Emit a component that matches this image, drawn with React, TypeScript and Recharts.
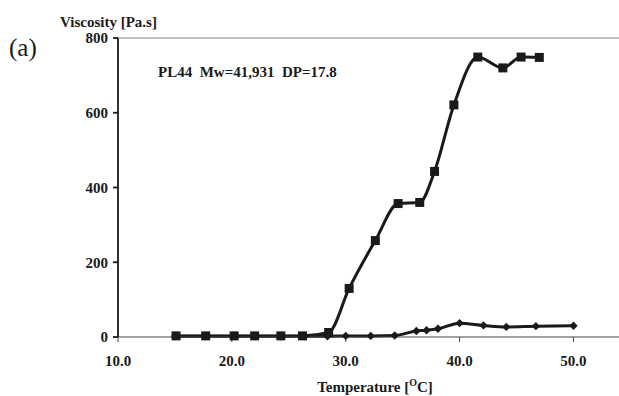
import React from 'react'
import { LineChart, Line, XAxis, YAxis, ReferenceLine } from 'recharts'

// upper curve (squares)
const tempA = [15.1, 17.7, 20.2, 22.0, 24.3, 26.2, 28.5, 30.3, 32.6, 34.6, 36.5, 37.8, 39.5, 41.6, 43.8, 45.4, 47.0]
const viscA = [3, 3, 3, 3, 3, 3, 12, 130, 258, 357, 360, 443, 621, 749, 720, 749, 748]

// lower curve (diamonds)
const tempB = [15.0, 17.7, 20.3, 22.1, 24.3, 26.4, 28.4, 30.0, 32.2, 34.3, 36.2, 37.1, 38.1, 40.0, 42.1, 44.1, 46.7, 50.0]
const viscB = [2, 2, 2, 2, 2, 2, 2, 3, 3, 4, 16, 18, 22, 37, 31, 27, 29, 30]

const xTicks = [10, 20, 30, 40, 50]
const yTicks = [0, 200, 400, 600, 800]

const seriesA = tempA.map((x, i) => ({ x, y: viscA[i] }))
const seriesB = tempB.map((x, i) => ({ x, y: viscB[i] }))

const FONT = '"Liberation Serif", "Times New Roman", serif'
const INK = '#1a1a1a'

const Square = (props: any) => {
  const { cx, cy } = props
  if (cx == null || cy == null) return null
  return <rect x={cx - 4.5} y={cy - 4.5} width={9} height={9} fill={INK} />
}

const Diamond = (props: any) => {
  const { cx, cy } = props
  if (cx == null || cy == null) return null
  const r = 4.2
  return <path d={`M${cx},${cy - r}L${cx + r},${cy}L${cx},${cy + r}L${cx - r},${cy}Z`} fill={INK} />
}

export default function App() {
  return (
    <div style={{ position: 'absolute', left: 0, top: 0, width: 619, height: 396, background: '#fff', fontFamily: FONT }}>
      <LineChart width={619} height={396} margin={{ top: 38, right: 0, bottom: 0, left: 0 }}>
        <XAxis
          type="number"
          dataKey="x"
          domain={[10, 54]}
          ticks={xTicks}
          tickFormatter={(v: number) => v.toFixed(1)}
          height={59}
          allowDataOverflow
          stroke="#444"
          tickLine={{ stroke: '#444' }}
          tickSize={5}
          tickMargin={13}
          tick={{ fill: INK, fontSize: 15, fontWeight: 'bold', fontFamily: FONT }}
        />
        <YAxis
          type="number"
          dataKey="y"
          domain={[0, 800]}
          ticks={yTicks}
          width={118}
          stroke={INK}
          strokeWidth={1.8}
          tickLine={{ stroke: INK }}
          tickSize={5}
          tickMargin={5}
          tick={{ fill: INK, fontSize: 15, fontWeight: 'bold', fontFamily: FONT }}
        />
        <ReferenceLine y={800} stroke="#888" strokeWidth={1} />
        <Line
          data={seriesA}
          dataKey="y"
          type="monotone"
          stroke={INK}
          strokeWidth={3}
          dot={<Square />}
          activeDot={false}
          isAnimationActive={false}
        />
        <Line
          data={seriesB}
          dataKey="y"
          type="monotone"
          stroke={INK}
          strokeWidth={3}
          dot={<Diamond />}
          activeDot={false}
          isAnimationActive={false}
        />
        <text x={9} y={56} fontSize={25} fontFamily={FONT} fill={INK}>(a)</text>
        <text x={60} y={27} fontSize={15} fontWeight="bold" fontFamily={FONT} fill={INK}>Viscosity [Pa.s]</text>
        <text x={158} y={77} fontSize={15} fontWeight="bold" fontFamily={FONT} fill={INK} xmlSpace="preserve">
          PL44  Mw=41,931  DP=17.8
        </text>
        <text x={375} y={392} fontSize={15} fontWeight="bold" fontFamily={FONT} fill={INK} textAnchor="middle">
          Temperature [<tspan fontSize={10} dy={-6}>O</tspan><tspan dy={6}>C]</tspan>
        </text>
      </LineChart>
    </div>
  )
}
